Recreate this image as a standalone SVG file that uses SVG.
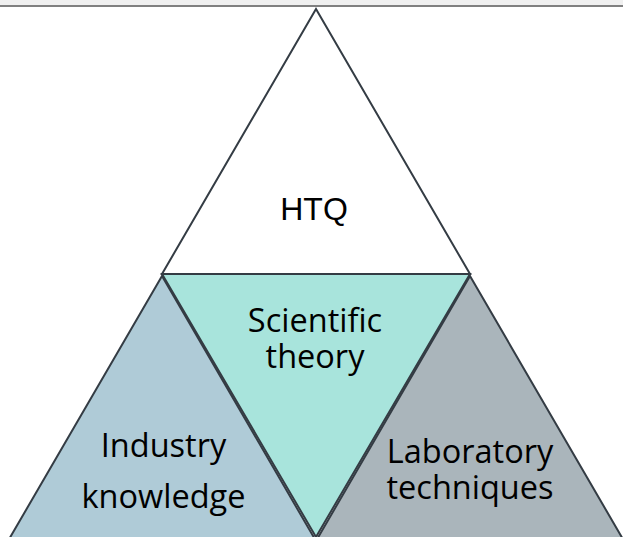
<svg xmlns="http://www.w3.org/2000/svg" width="623" height="537" viewBox="0 0 623 537">
<style>
.tri{stroke:#343c44;stroke-width:2;stroke-linejoin:miter}
.lbl{font-family:"Open Sans","Noto Sans",sans-serif;font-size:32.5px;fill:#000;text-anchor:middle}
.lbl2{font-family:"Liberation Sans",Arial,sans-serif;font-size:32px;fill:#000;text-anchor:middle}
</style>
<rect x="0" y="0" width="623" height="537" fill="#ffffff"/>
<rect x="0" y="0" width="623" height="5" fill="#f0f0f0"/>
<rect x="0" y="5" width="623" height="2" fill="#808080"/>
<g id="industry">
<polygon class="tri" points="162,276 316,541 8,541" fill="#afcbd7"/>
<text class="lbl" x="163.5" y="457">Industry</text>
<text class="lbl" x="163.5" y="508">knowledge</text>
</g>
<g id="laboratory">
<polygon class="tri" points="470,276 624,541 316,541" fill="#aab5bb"/>
<text class="lbl" x="470" y="463">Laboratory</text>
<text class="lbl" x="470" y="499">techniques</text>
</g>
<g id="scientific">
<polygon class="tri" points="162,274 470,274 316,537" fill="#a8e4dc"/>
<text class="lbl" x="315" y="332">Scientific</text>
<text class="lbl" x="315" y="368">theory</text>
</g>
<g id="htq">
<polygon class="tri" points="316,9 470,274 162,274" fill="#ffffff"/>
<text class="lbl2" x="314" y="220">HTQ</text>
</g>
<g id="connectors"></g>
</svg>
